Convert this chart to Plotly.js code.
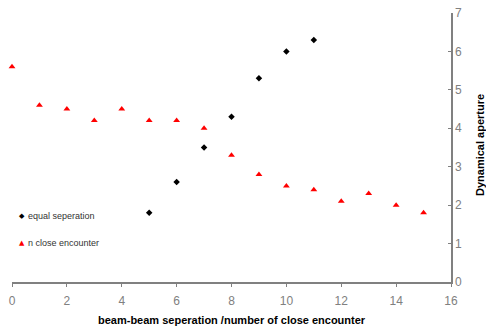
<!DOCTYPE html>
<html>
<head>
<meta charset="utf-8">
<script src="https://cdn.plot.ly/plotly-3.0.1.min.js"></script>
<style>
  html, body { margin: 0; padding: 0; background: #fff; }
  #chart { width: 486px; height: 329px; }
</style>
</head>
<body>
<div id="chart"></div>
<script>
// Dynamical aperture vs. beam-beam separation / number of close encounters
const equalSepX = [5, 6, 7, 8, 9, 10, 11];
const equalSepY = [1.8, 2.6, 3.5, 4.3, 5.3, 6.0, 6.3];

const closeEncX = [0, 1, 2, 3, 4, 5, 6, 7, 8, 9, 10, 11, 12, 13, 14, 15];
const closeEncY = [5.6, 4.6, 4.5, 4.2, 4.5, 4.2, 4.2, 4.0, 3.3, 2.8, 2.5, 2.4, 2.1, 2.3, 2.0, 1.8];

const xTicks = [0, 2, 4, 6, 8, 10, 12, 14, 16];
const yTicks = [0, 1, 2, 3, 4, 5, 6, 7];

const seriesNames = ["equal seperation", "n close encounter"];

const labelFont = "Liberation Sans, Arial, sans-serif";

const traces = [
  {
    x: equalSepX, y: equalSepY,
    type: "scatter", mode: "markers",
    name: seriesNames[0],
    cliponaxis: false,
    marker: { symbol: "diamond", size: 5, color: "#000000" }
  },
  {
    x: closeEncX, y: closeEncY,
    type: "scatter", mode: "markers",
    name: seriesNames[1],
    cliponaxis: false,
    marker: { symbol: "triangle-up", size: 6, color: "#ff0000" }
  }
];

// Compact key: a small symbol right beside each label
const pxX = px => (px - 12) / 439;
const pxY = py => (282 - py) / 269;
const keyRows = [
  { sym: "◆", color: "#000000", name: seriesNames[0], y: 216, size: 7 },
  { sym: "▲", color: "#ff0000", name: seriesNames[1], y: 243, size: 7 }
];
const keyAnnotations = [];
keyRows.forEach(k => {
  keyAnnotations.push({
    text: k.sym, xref: "paper", yref: "paper",
    x: pxX(21.5), y: pxY(k.y), xanchor: "center", yanchor: "middle",
    showarrow: false,
    font: { size: k.size, color: k.color, family: "DejaVu Sans, sans-serif" }
  });
  keyAnnotations.push({
    text: k.name, xref: "paper", yref: "paper",
    x: pxX(26), y: pxY(k.y), xanchor: "left", yanchor: "middle",
    showarrow: false,
    font: { size: 9, color: "#333333", family: labelFont }
  });
});

const layout = {
  width: 486, height: 329,
  margin: { l: 12, r: 35, t: 13, b: 47 },
  paper_bgcolor: "#ffffff",
  plot_bgcolor: "#ffffff",
  font: { family: labelFont },
  showlegend: false,
  xaxis: {
    range: [0, 16],
    tickvals: xTicks,
    ticks: "outside", ticklen: 3, tickcolor: "#808080",
    ticklabelstandoff: 4,
    showline: true, linecolor: "#808080", linewidth: 1.5,
    showgrid: false, zeroline: false,
    tickfont: { size: 12, color: "#808080", family: labelFont }
  },
  yaxis: {
    range: [0, 7],
    side: "right",
    tickvals: yTicks,
    ticks: "inside", ticklen: 3, tickcolor: "#808080",
    showline: true, linecolor: "#808080", linewidth: 1.5,
    showgrid: false, zeroline: false,
    tickfont: { size: 12, color: "#808080", family: labelFont }
  },
  annotations: [
    {
      text: "<b>beam-beam seperation /number of close encounter</b>",
      xref: "paper", yref: "paper",
      x: 0.502, y: pxY(320), xanchor: "center", yanchor: "middle",
      showarrow: false,
      font: { size: 11, color: "#000000", family: labelFont }
    },
    {
      text: "<b>Dynamical aperture</b>",
      xref: "paper", yref: "paper",
      x: pxX(480), y: pxY(145), xanchor: "center", yanchor: "middle",
      textangle: -90,
      showarrow: false,
      font: { size: 11, color: "#000000", family: labelFont }
    }
  ].concat(keyAnnotations)
};

Plotly.newPlot("chart", traces, layout, { displayModeBar: false, staticPlot: true });
</script>
</body>
</html>
